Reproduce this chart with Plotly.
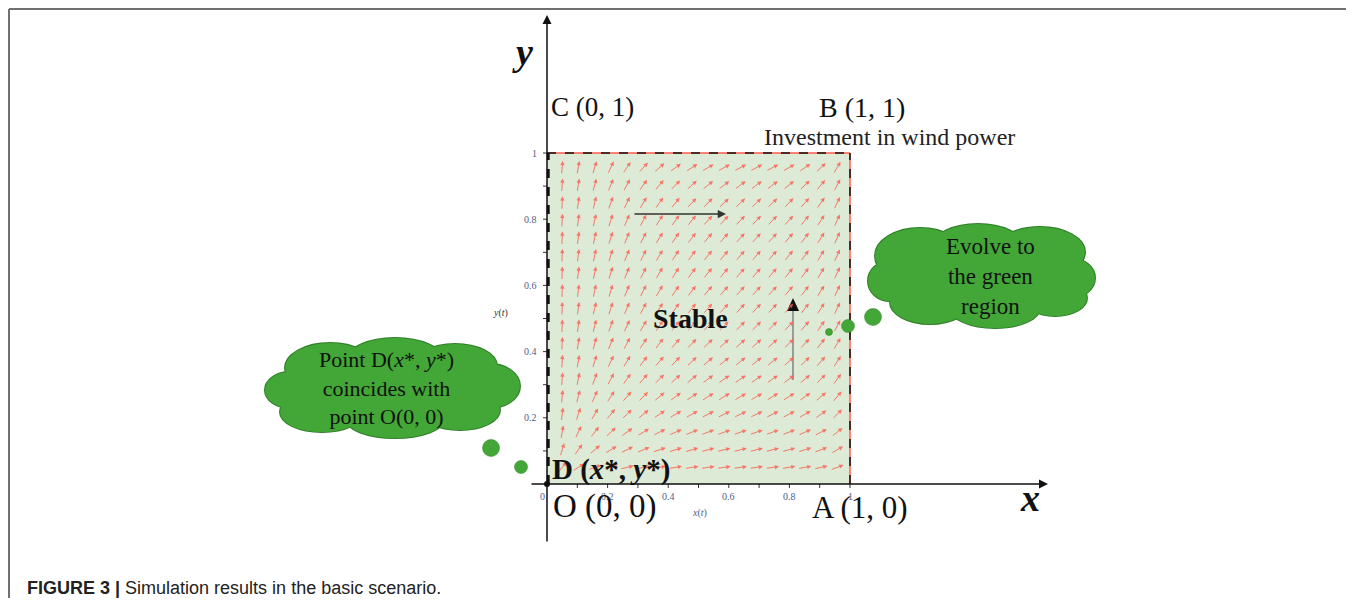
import plotly.graph_objects as go
import math

# ---------------- data ----------------
# sample points of the direction field (x(t), y(t))
field_x = [0.050, 0.103, 0.157, 0.210, 0.263, 0.317, 0.370, 0.423, 0.477,
           0.530, 0.583, 0.637, 0.690, 0.743, 0.797, 0.850, 0.903, 0.957]
field_y = [0.955, 0.902, 0.848, 0.795, 0.742, 0.689, 0.636, 0.582, 0.529,
           0.476, 0.423, 0.369, 0.316, 0.263, 0.210, 0.156, 0.103, 0.050]
# arrow direction (degrees above horizontal, as drawn), rows follow field_y
field_angle = [
    [85, 80, 73, 65, 56, 47, 41, 36, 33, 30, 29, 28, 28, 28, 30, 34, 43, 60],
    [86, 81, 75, 68, 62, 55, 50, 45, 42, 39, 38, 37, 37, 37, 39, 43, 50, 62],
    [87, 82, 77, 70, 65, 60, 55, 51, 47, 45, 43, 43, 43, 43, 45, 48, 55, 64],
    [87, 83, 78, 72, 67, 62, 58, 54, 51, 48, 47, 46, 46, 46, 48, 51, 57, 65],
    [88, 83, 78, 73, 68, 63, 59, 56, 53, 50, 49, 48, 48, 48, 50, 53, 58, 66],
    [88, 83, 78, 73, 68, 64, 60, 57, 54, 51, 50, 49, 49, 49, 51, 54, 59, 66],
    [88, 83, 78, 73, 68, 64, 60, 57, 54, 51, 50, 49, 49, 49, 51, 54, 59, 66],
    [88, 83, 78, 73, 68, 63, 59, 56, 53, 50, 49, 48, 48, 48, 50, 53, 58, 65],
    [88, 83, 77, 72, 67, 62, 58, 55, 52, 49, 48, 47, 47, 47, 49, 52, 57, 64],
    [88, 82, 76, 70, 65, 60, 56, 52, 49, 47, 45, 45, 45, 45, 47, 50, 55, 62],
    [87, 81, 75, 68, 62, 57, 53, 49, 46, 44, 42, 42, 42, 42, 44, 47, 52, 60],
    [87, 80, 73, 65, 59, 54, 49, 46, 43, 41, 39, 39, 39, 39, 41, 44, 49, 57],
    [86, 78, 70, 62, 55, 50, 45, 42, 39, 37, 35, 35, 35, 35, 37, 40, 45, 54],
    [85, 76, 66, 57, 50, 45, 40, 37, 34, 32, 31, 30, 30, 31, 32, 35, 40, 50],
    [83, 72, 60, 51, 44, 39, 34, 31, 29, 27, 26, 25, 25, 26, 27, 30, 35, 45],
    [80, 65, 52, 43, 36, 31, 27, 24, 22, 21, 20, 19, 19, 20, 21, 24, 28, 38],
    [73, 55, 41, 32, 26, 22, 19, 17, 16, 15, 14, 14, 14, 14, 15, 17, 21, 30],
    [52, 32, 21, 16, 13, 11, 10, 9, 8, 8, 8, 8, 8, 8, 9, 10, 13, 20],
]
x_ticks = [0, 0.2, 0.4, 0.6, 0.8, 1]
x_tick_labels = ["0", "0.2", "0.4", "0.6", "0.8", "1"]
y_ticks = [0.2, 0.4, 0.6, 0.8, 1]
y_tick_labels = ["0.2", "0.4", "0.6", "0.8", "1"]
corner_names = ["C (0, 1)", "B (1, 1)", "A (1, 0)", "O (0, 0)"]
corner_x = [0, 1, 1, 0]
corner_y = [1, 1, 0, 0]

# ---------------- geometry helpers ----------------
OFF = 8                         # page body margin
W, H = 1338, 590                # figure size
X0PX, XSCALE = 547.0, 303.0     # window pixel of x=0, pixels per unit
Y0PX, YSCALE = 484.0, 331.0     # window pixel of y=0, pixels per unit


def dx(p):
    return (p - X0PX) / XSCALE


def dy(p):
    return (Y0PX - p) / YSCALE


def paper_x(p):
    return (p - OFF) / W


def paper_y(p):
    return 1 - (p - OFF) / H


SERIF = "Liberation Serif"
shapes = []
annotations = []

# outer frame
shapes.append(dict(type="line", xref="paper", yref="paper", x0=paper_x(9), x1=paper_x(9),
                   y0=paper_y(9), y1=0, line=dict(color="#707070", width=2)))
shapes.append(dict(type="line", xref="paper", yref="paper", x0=paper_x(9), x1=1,
                   y0=paper_y(9), y1=paper_y(9), line=dict(color="#707070", width=2)))

# green stable region
shapes.append(dict(type="rect", xref="x", yref="y", x0=0, x1=1, y0=0, y1=1,
                   fillcolor="#dcead6", line=dict(width=0), layer="below"))
# borders: red under black dashes
for (a, b, c, d) in [(0, 1, 1, 1), (1, 1, 0, 1)]:
    shapes.append(dict(type="line", xref="x", yref="y", x0=a, x1=b, y0=c, y1=d,
                       line=dict(color="#ff5a4a", width=1.5)))
    shapes.append(dict(type="line", xref="x", yref="y", x0=a, x1=b, y0=c, y1=d,
                       line=dict(color="#111111", width=1.5, dash="dash")))
shapes.append(dict(type="line", xref="x", yref="y", x0=0.004, x1=0.004, y0=0, y1=1,
                   line=dict(color="#111111", width=3, dash="dash")))

# minor ticks on the axes
for k in range(1, 11):
    t = k / 10
    shapes.append(dict(type="line", xref="x", yref="y", x0=t, x1=t, y0=0, y1=dy(Y0PX + 4),
                       line=dict(color="#333333", width=1)))
    shapes.append(dict(type="line", xref="x", yref="y", x0=0, x1=dx(X0PX - 4), y0=t, y1=t,
                       line=dict(color="#333333", width=1)))

# clouds: ellipses (cx, cy, rx, ry) in window pixels
cloud_left = [(392, 388, 105, 38), (330, 368, 45, 25), (395, 360, 48, 22),
              (455, 366, 42, 22), (490, 386, 30, 22), (290, 390, 25, 18),
              (322, 412, 42, 20), (395, 420, 48, 18), (460, 410, 40, 20)]
cloud_right = [(983, 276, 100, 40), (920, 256, 45, 28), (978, 246, 45, 22),
               (1040, 252, 45, 25), (1070, 278, 25, 20), (890, 281, 22, 20),
               (930, 302, 40, 22), (995, 308, 45, 20), (1055, 298, 32, 18)]
CLOUD = "#42a736"
EDGE = "#2f7f28"
for cloud in (cloud_left, cloud_right):
    for (cx, cy, rx, ry) in cloud:
        shapes.append(dict(type="circle", xref="x", yref="y", x0=dx(cx - rx), x1=dx(cx + rx),
                           y0=dy(cy + ry), y1=dy(cy - ry), fillcolor=CLOUD,
                           line=dict(color=EDGE, width=2)))
    for (cx, cy, rx, ry) in cloud:
        shapes.append(dict(type="circle", xref="x", yref="y", x0=dx(cx - rx), x1=dx(cx + rx),
                           y0=dy(cy + ry), y1=dy(cy - ry), fillcolor=CLOUD,
                           line=dict(width=0)))

# thought bubbles (window px centre, radius)
for (cx, cy, r) in [(829, 332, 3.5), (848, 326, 6.5), (873, 317, 8.5),
                    (491, 448, 8.5), (521, 467, 6.5)]:
    shapes.append(dict(type="circle", xref="x", yref="y", x0=dx(cx - r), x1=dx(cx + r),
                       y0=dy(cy + r), y1=dy(cy - r), fillcolor=CLOUD,
                       line=dict(color=EDGE, width=0.5)))

# origin dot
shapes.append(dict(type="circle", xref="x", yref="y", x0=dx(X0PX - 3), x1=dx(X0PX + 3),
                   y0=dy(Y0PX + 3), y1=dy(Y0PX - 3), fillcolor="#111111", line=dict(width=0)))

# vector field arrows
L = 14.0
for r, yv in enumerate(field_y):
    for c, xv in enumerate(field_x):
        th = math.radians(field_angle[r][c])
        cx_, sy_ = math.cos(th), math.sin(th)
        annotations.append(dict(
            x=xv, y=yv, xref="x", yref="y", text="", showarrow=True,
            ax=-L * cx_, ay=L * sy_, xshift=L / 2 * cx_, yshift=L / 2 * sy_,
            arrowhead=2, arrowsize=0.85, arrowwidth=1, arrowcolor="rgba(255,90,75,0.8)",
            standoff=0, startstandoff=0, font=dict(size=1)))

# main coordinate axes with arrowheads
annotations.append(dict(x=0, y=dy(15), ax=0, ay=dy(543), xref="x", yref="y",
                        axref="x", ayref="y", text="", showarrow=True, arrowhead=2,
                        arrowsize=1.2, arrowwidth=1.5, arrowcolor="#111111"))
annotations.append(dict(x=dx(1048), y=0, ax=dx(530), ay=0, xref="x", yref="y",
                        axref="x", ayref="y", text="", showarrow=True, arrowhead=2,
                        arrowsize=1.2, arrowwidth=1.5, arrowcolor="#111111"))

# inner arrows
annotations.append(dict(x=dx(726), y=dy(214), ax=dx(633), ay=dy(214), xref="x", yref="y",
                        axref="x", ayref="y", text="", showarrow=True, arrowhead=2,
                        arrowsize=1.1, arrowwidth=1.5, arrowcolor="#333333"))
annotations.append(dict(x=dx(793), y=dy(308), ax=dx(793), ay=dy(380), xref="x", yref="y",
                        axref="x", ayref="y", text="", showarrow=False))
shapes.append(dict(type="line", xref="x", yref="y", x0=dx(793), x1=dx(793),
                   y0=dy(380), y1=dy(308), line=dict(color="#9a9a9a", width=2)))
shapes.append(dict(type="path", xref="x", yref="y",
                   path=f"M {dx(787)} {dy(311)} L {dx(799)} {dy(311)} L {dx(793)} {dy(298)} Z",
                   fillcolor="#111111", line=dict(width=0)))

# tick labels
TICKC = "#4f5d8a"
for v, lab in zip(x_ticks, x_tick_labels):
    annotations.append(dict(x=v, y=0, xref="x", yref="y", text=lab, showarrow=False,
                            yshift=-12, xshift=-5 if v == 0 else 0,
                            font=dict(family=SERIF, size=10, color=TICKC)))
for v, lab in zip(y_ticks, y_tick_labels):
    annotations.append(dict(x=0, y=v, xref="x", yref="y", text=lab, showarrow=False,
                            xanchor="right", xshift=-8,
                            font=dict(family=SERIF, size=10, color=TICKC)))
annotations.append(dict(x=dx(500), y=dy(313), xref="x", yref="y", text="<i>y</i>(<i>t</i>)",
                        showarrow=False, font=dict(family=SERIF, size=10, color="#333333")))
annotations.append(dict(x=dx(699), y=dy(513), xref="x", yref="y", text="<i>x</i>(<i>t</i>)",
                        showarrow=False, font=dict(family=SERIF, size=10, color=TICKC)))

# axis names
annotations.append(dict(x=dx(522), y=dy(52), xref="x", yref="y", text="<b><i>y</i></b>",
                        showarrow=False, font=dict(family=SERIF, size=38, color="#111111")))
annotations.append(dict(x=dx(1030), y=dy(498), xref="x", yref="y", text="<b><i>x</i></b>",
                        showarrow=False, font=dict(family=SERIF, size=38, color="#111111")))

# corner labels
corner_style = [
    dict(xanchor="left", xshift=2, yshift=46, size=27),
    dict(xanchor="center", xshift=12, yshift=46, size=28),
    dict(xanchor="center", xshift=10, yshift=-23, size=31),
    dict(xanchor="left", xshift=4, yshift=-22, size=33),
]
for name, cx_, cy_, st in zip(corner_names, corner_x, corner_y, corner_style):
    annotations.append(dict(x=cx_, y=cy_, xref="x", yref="y", text=name, showarrow=False,
                            xanchor=st["xanchor"], xshift=st["xshift"], yshift=st["yshift"],
                            font=dict(family=SERIF, size=st["size"], color="#111111")))
annotations.append(dict(x=0, y=0, xref="x", yref="y",
                        text="<b>D (<i>x</i>*, <i>y</i>*)</b>", showarrow=False,
                        xanchor="left", xshift=3, yshift=15,
                        font=dict(family=SERIF, size=29, color="#111111")))
annotations.append(dict(x=dx(889), y=dy(137), xref="x", yref="y",
                        text="Investment in wind power", showarrow=False,
                        font=dict(family=SERIF, size=24, color="#222222")))
annotations.append(dict(x=dx(690), y=dy(318), xref="x", yref="y", text="<b>Stable</b>",
                        showarrow=False, font=dict(family=SERIF, size=28, color="#111111")))

# cloud texts
annotations.append(dict(x=dx(386), y=dy(388), xref="x", yref="y",
                        text="Point D(<i>x</i>*, <i>y</i>*)<br>coincides with<br>point O(0, 0)",
                        showarrow=False, align="center",
                        font=dict(family=SERIF, size=22, color="#111111")))
annotations.append(dict(x=dx(990), y=dy(276), xref="x", yref="y",
                        text="Evolve to<br>the green<br>region",
                        showarrow=False, align="center",
                        font=dict(family=SERIF, size=23, color="#111111")))

# caption
annotations.append(dict(x=paper_x(25), y=paper_y(588), xref="paper", yref="paper",
                        xanchor="left", yanchor="middle", showarrow=False,
                        text="<b>FIGURE 3 |</b> Simulation results in the basic scenario.",
                        font=dict(family="Liberation Sans", size=18, color="#222222")))

fig = go.Figure()
fig.add_trace(go.Scatter(x=[0], y=[0], mode="markers", marker=dict(size=1, color="rgba(0,0,0,0)"),
                         hoverinfo="skip", showlegend=False))
fig.update_layout(
    width=W, height=H, margin=dict(l=0, r=0, t=0, b=0),
    paper_bgcolor="white", plot_bgcolor="white", showlegend=False,
    xaxis=dict(range=[dx(OFF), dx(OFF + W)], visible=False, fixedrange=True),
    yaxis=dict(range=[dy(OFF + H), dy(OFF)], visible=False, fixedrange=True),
    shapes=shapes, annotations=annotations,
)
fig.write_html("out.html")
